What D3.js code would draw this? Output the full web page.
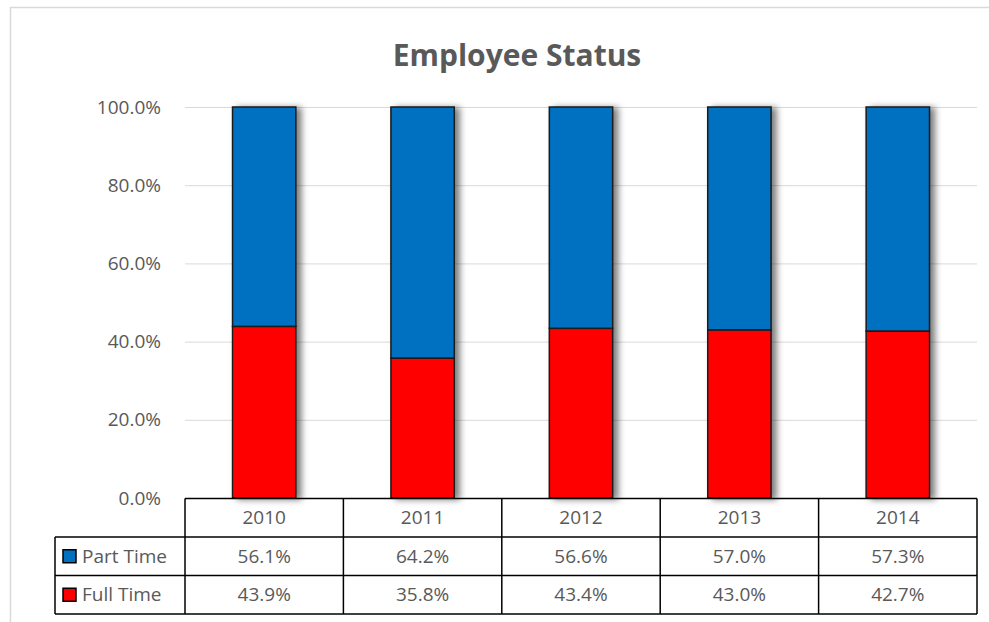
<!DOCTYPE html>
<html>
<head>
<meta charset="utf-8">
<script src="https://cdn.jsdelivr.net/npm/d3@7"></script>
<style>
  body { margin: 0; background: #fff; }
  text { font-family: "Open Sans", sans-serif; fill: #595959; }
</style>
</head>
<body>
<svg id="chart" width="989" height="622"></svg>
<script>
// data
var years = ["2010", "2011", "2012", "2013", "2014"];
var fullTime = [0.439, 0.358, 0.434, 0.430, 0.427];
var partTime = [0.561, 0.642, 0.566, 0.570, 0.573];
var seriesNames = ["Part Time", "Full Time"];
var seriesColors = ["#0070C0", "#FF0000"];
var yTicks = [0, 0.2, 0.4, 0.6, 0.8, 1.0];

var svg = d3.select("#chart");

var plotLeft = 185, plotRight = 977, plotTop = 107, plotBottom = 498;
var rowH = 38.5;
var fs = "19px";

// outer chart border
svg.append("rect")
    .attr("x", 10.5).attr("y", 7.5)
    .attr("width", 1000).attr("height", 640)
    .attr("fill", "none")
    .attr("stroke", "#d9d9d9")
    .attr("stroke-width", 1.5);

// shadow filter for bars
var defs = svg.append("defs");
var f = defs.append("filter").attr("id", "shadow")
    .attr("x", "-20%").attr("y", "-5%").attr("width", "160%").attr("height", "110%");
f.append("feDropShadow")
    .attr("dx", 5).attr("dy", 1)
    .attr("stdDeviation", 3)
    .attr("flood-color", "#000")
    .attr("flood-opacity", 0.5);

svg.append("text")
    .attr("x", 517).attr("y", 66)
    .attr("text-anchor", "middle")
    .style("font-size", "30px")
    .style("font-weight", "bold")
    .text("Employee Status");

var y = d3.scaleLinear().domain([0, 1]).range([plotBottom, plotTop]);

var x = d3.scaleBand().domain(years).range([plotLeft, plotRight])
    .paddingInner(0.6).paddingOuter(0.3);
var col = d3.scaleBand().domain(years).range([plotLeft, plotRight]).padding(0);

// gridlines
svg.append("g")
    .selectAll("line")
    .data(yTicks)
    .enter().append("line")
    .attr("x1", plotLeft).attr("x2", plotRight)
    .attr("y1", function(d) { return y(d) + 0.5; })
    .attr("y2", function(d) { return y(d) + 0.5; })
    .attr("stroke", "#d9d9d9")
    .attr("stroke-width", 1);

// y axis labels
var yAxis = d3.axisLeft(y).tickValues(yTicks).tickFormat(d3.format(".1%")).tickSize(0).tickPadding(0);
var ga = svg.append("g")
    .attr("transform", "translate(161,0)")
    .call(yAxis);
ga.select(".domain").remove();
ga.selectAll("text")
    .style("font-size", fs)
    .style("font-family", "'Open Sans', sans-serif")
    .attr("fill", "#595959");

// stacked bars
var stackData = years.map(function(yr, i) {
    return { year: yr, full: fullTime[i], part: partTime[i] };
});
var stack = d3.stack().keys(["full", "part"]);
var layers = stack(stackData);
var keyColor = { full: seriesColors[1], part: seriesColors[0] };

var bars = svg.append("g").attr("filter", "url(#shadow)");
layers.forEach(function(layer) {
    bars.selectAll("rect." + layer.key)
        .data(layer)
        .enter().append("rect")
        .attr("class", layer.key)
        .attr("x", function(d) { return x(d.data.year); })
        .attr("width", x.bandwidth())
        .attr("y", function(d) { return y(d[1]); })
        .attr("height", function(d) { return y(d[0]) - y(d[1]); })
        .attr("fill", keyColor[layer.key])
        .attr("stroke", "#1a1a1a")
        .attr("stroke-width", 1.5);
});

// data table
var table = svg.append("g");
var tTop = plotBottom + 0.5;
var labelLeft = 55;
var lineStyle = function(sel) { sel.attr("stroke", "#000").attr("stroke-width", 1.5); };

// horizontal lines
table.append("line").attr("x1", plotLeft).attr("x2", plotRight)
    .attr("y1", tTop).attr("y2", tTop).call(lineStyle);
[1, 2, 3].forEach(function(r) {
    table.append("line").attr("x1", labelLeft).attr("x2", plotRight)
        .attr("y1", tTop + r * rowH).attr("y2", tTop + r * rowH).call(lineStyle);
});
// vertical lines
table.append("line").attr("x1", labelLeft).attr("x2", labelLeft)
    .attr("y1", tTop + rowH).attr("y2", tTop + 3 * rowH).call(lineStyle);
years.concat(["end"]).forEach(function(yr, i) {
    var xx = plotLeft + i * col.step();
    table.append("line").attr("x1", xx).attr("x2", xx)
        .attr("y1", tTop).attr("y2", tTop + 3 * rowH).call(lineStyle);
});

// header cells
table.selectAll("text.yr")
    .data(years)
    .enter().append("text")
    .attr("class", "yr")
    .attr("x", function(d) { return col(d) + col.bandwidth() / 2; })
    .attr("y", tTop + rowH / 2)
    .attr("dy", "0.35em")
    .attr("text-anchor", "middle")
    .style("font-size", fs)
    .text(function(d) { return d; });

var rows = [partTime, fullTime];
rows.forEach(function(vals, r) {
    var cy = tTop + (r + 1) * rowH + rowH / 2;
    table.append("rect")
        .attr("x", 63).attr("y", cy - 6.5)
        .attr("width", 13).attr("height", 13)
        .attr("fill", seriesColors[r])
        .attr("stroke", "#000").attr("stroke-width", 1.5);
    table.append("text")
        .attr("x", 82).attr("y", cy)
        .attr("dy", "0.35em")
        .style("font-size", fs)
        .text(seriesNames[r]);
    table.selectAll("text.v" + r)
        .data(vals)
        .enter().append("text")
        .attr("class", "v" + r)
        .attr("x", function(d, i) { return col(years[i]) + col.bandwidth() / 2; })
        .attr("y", cy)
        .attr("dy", "0.35em")
        .attr("text-anchor", "middle")
        .style("font-size", fs)
        .text(function(d) { return d3.format(".1%")(d); });
});
</script>
</body>
</html>
